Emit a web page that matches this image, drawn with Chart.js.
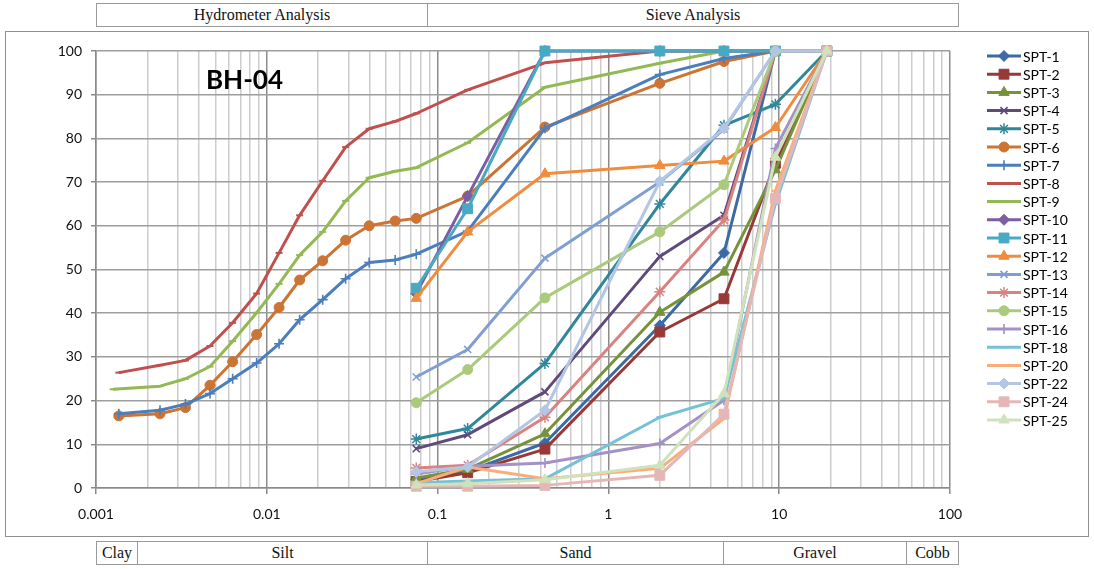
<!DOCTYPE html>
<html>
<head>
<meta charset="utf-8">
<script src="https://cdn.jsdelivr.net/npm/chart.js@4.4.1/dist/chart.umd.min.js"></script>
<style>
  html, body { margin: 0; padding: 0; background: #fff; }
  #wrap { position: relative; width: 1094px; height: 569px; overflow: hidden; background: #fff; }
  #frame { position: absolute; left: 5px; top: 31px; width: 1084px; height: 506px; border: 1px solid #8f8f8f; box-sizing: border-box; }
  canvas { position: absolute; left: 0; top: 0; }
  .cell { position: absolute; box-sizing: border-box; border: 1px solid #9a9a9a; font-family: "Liberation Serif", "DejaVu Serif", serif; font-size: 16px; color: #111; text-align: center; line-height: 22px; height: 24px; background: #fff; }
  #title { position: absolute; left: 206px; top: 64px; font-family: Lato, "Liberation Sans", sans-serif; font-weight: bold; font-size: 26px; color: #000; line-height: 30px; }
</style>
</head>
<body>
<div id="wrap">
  <div id="frame"></div>
  <canvas id="gsd" width="1094" height="569"></canvas>
  <div class="cell" style="left:96px;top:3px;width:332px;">Hydrometer Analysis</div>
  <div class="cell" style="left:427px;top:3px;width:532px;">Sieve Analysis</div>
  <div class="cell" style="left:96px;top:541px;width:42px;">Clay</div>
  <div class="cell" style="left:137px;top:541px;width:291px;">Silt</div>
  <div class="cell" style="left:427px;top:541px;width:297px;">Sand</div>
  <div class="cell" style="left:723px;top:541px;width:184px;">Gravel</div>
  <div class="cell" style="left:906px;top:541px;width:53px;">Cobb</div>
  <div id="title">BH-04</div>
</div>
<script>
// Particle sizes (mm)
const sieveSizes = [0.075, 0.15, 0.425, 2.0, 4.75, 9.5, 19.0];
const hydroSizes = [0.00136, 0.00237, 0.00334, 0.00465, 0.00631, 0.00872, 0.0118, 0.01557, 0.02124, 0.02894, 0.03975, 0.05644];
const hydroSizesSpt9 = [0.00126, 0.00237, 0.00334, 0.00465, 0.00631, 0.00872, 0.0118, 0.01557, 0.02124, 0.02894, 0.03975, 0.05644];

// Percent passing - sieve only samples
const spt1  = [2.0, 3.8, 10.3, 37.2, 53.8, 100, 100];
const spt2  = [1.5, 3.5, 8.9, 35.7, 43.3, 74.3, 100];
const spt3  = [2.3, 4.3, 12.4, 40.2, 49.4, 72.8, 100];
const spt4  = [9.0, 12.2, 22.0, 53.0, 62.4, 100, 100];
const spt5  = [11.2, 13.6, 28.5, 65.0, 83.0, 87.8, 100];
const spt10 = [44.5, 66.8, 100, 100, 100, 100, 100];
const spt11 = [45.7, 63.9, 100, 100, 100, 100, 100];
const spt12 = [43.4, 58.6, 71.9, 73.8, 74.8, 82.5, 100];
const spt13 = [25.4, 31.7, 52.6, 70.0, 82.1, 100, 100];
const spt14 = [4.6, 5.2, 16.2, 44.9, 61.3, 100, 100];
const spt15 = [19.5, 27.1, 43.5, 58.6, 69.4, 100, 100];
const spt16 = [3.2, 5.0, 5.7, 10.2, 20.1, 77.7, 100];
const spt18 = [1.2, 1.6, 2.1, 16.2, 20.5, 65.0, 100];
const spt20 = [1.0, 4.8, 2.1, 4.5, 15.9, 68.0, 100];
const spt22 = [3.7, 4.8, 17.8, 70.2, 82.3, 100, 100];
const spt24 = [0.4, 0.4, 0.6, 2.9, 16.9, 66.2, 100];
const spt25 = [0.7, 1.0, 1.9, 5.2, 21.6, 75.7, 100];

// Percent passing - hydrometer + sieve samples
const spt6Hydro = [16.5, 17.0, 18.4, 23.5, 28.9, 35.1, 41.3, 47.6, 52.0, 56.7, 60.0, 61.1];
const spt6Sieve = [61.7, 66.8, 82.6, 92.6, 97.6, 100, 100];
const spt7Hydro = [17.0, 17.8, 19.2, 21.6, 25.0, 28.6, 33.0, 38.5, 43.1, 47.9, 51.6, 52.2];
const spt7Sieve = [53.5, 58.8, 82.3, 94.6, 98.3, 100, 100];
const spt8Hydro = [26.4, 28.1, 29.2, 32.5, 37.8, 44.5, 53.8, 62.4, 70.3, 78.0, 82.2, 83.9];
const spt8Sieve = [85.7, 91.1, 97.3, 100, 100, 100, 100];
const spt9Hydro = [22.6, 23.3, 25.0, 27.8, 33.6, 40.1, 46.7, 53.3, 58.6, 65.7, 71.0, 72.5];
const spt9Sieve = [73.3, 79.0, 91.7, 97.2, 100, 100, 100];

const xTickLabels = ['0.001', '0.01', '0.1', '1', '10', '100'];
const yTickValues = [0, 10, 20, 30, 40, 50, 60, 70, 80, 90, 100];

function pairs(xs, ys) { return ys.map((y, i) => ({ x: xs[i], y: y })); }

const series = [
  { name: 'SPT-1',  color: '#3b6aa6', marker: 'rectRot',  data: pairs(sieveSizes, spt1) },
  { name: 'SPT-2',  color: '#973a37', marker: 'rect',     data: pairs(sieveSizes, spt2) },
  { name: 'SPT-3',  color: '#76933c', marker: 'triangle', data: pairs(sieveSizes, spt3) },
  { name: 'SPT-4',  color: '#5f4a7c', marker: 'crossRot', data: pairs(sieveSizes, spt4) },
  { name: 'SPT-5',  color: '#2f8799', marker: 'star',     data: pairs(sieveSizes, spt5) },
  { name: 'SPT-6',  color: '#cb7434', marker: 'circle',   data: pairs(hydroSizes.concat(sieveSizes), spt6Hydro.concat(spt6Sieve)) },
  { name: 'SPT-7',  color: '#4a7ebd', marker: 'cross',    data: pairs(hydroSizes.concat(sieveSizes), spt7Hydro.concat(spt7Sieve)) },
  { name: 'SPT-8',  color: '#c0504d', marker: 'line',     data: pairs(hydroSizes.concat(sieveSizes), spt8Hydro.concat(spt8Sieve)) },
  { name: 'SPT-9',  color: '#93b952', marker: 'line',     data: pairs(hydroSizesSpt9.concat(sieveSizes), spt9Hydro.concat(spt9Sieve)) },
  { name: 'SPT-10', color: '#7c5ea2', marker: 'rectRot',  data: pairs(sieveSizes, spt10) },
  { name: 'SPT-11', color: '#48a9c3', marker: 'rect',     data: pairs(sieveSizes, spt11) },
  { name: 'SPT-12', color: '#f08c3e', marker: 'triangle', data: pairs(sieveSizes, spt12) },
  { name: 'SPT-13', color: '#7f9fd3', marker: 'crossRot', data: pairs(sieveSizes, spt13) },
  { name: 'SPT-14', color: '#d9827f', marker: 'star',     data: pairs(sieveSizes, spt14) },
  { name: 'SPT-15', color: '#abca7c', marker: 'circle',   data: pairs(sieveSizes, spt15) },
  { name: 'SPT-16', color: '#a392c5', marker: 'cross',    data: pairs(sieveSizes, spt16) },
  { name: 'SPT-18', color: '#75c2d8', marker: 'line',     data: pairs(sieveSizes, spt18) },
  { name: 'SPT-20', color: '#f9ae7a', marker: 'line',     data: pairs(sieveSizes, spt20) },
  { name: 'SPT-22', color: '#b3c6e6', marker: 'rectRot',  data: pairs(sieveSizes, spt22) },
  { name: 'SPT-24', color: '#e4b7b6', marker: 'rect',     data: pairs(sieveSizes, spt24) },
  { name: 'SPT-25', color: '#cfe2bb', marker: 'triangle', data: pairs(sieveSizes, spt25) }
];

const markerRadius = { rect: 7, rectRot: 5.5, triangle: 6, circle: 5, cross: 5, crossRot: 5, star: 5.5, line: 3.5 };
const markerBorder = { rect: 1, rectRot: 1, triangle: 1, circle: 1, cross: 1.6, crossRot: 1.6, star: 1.5, line: 2 };

const datasets = series.map((s, i) => ({
  label: s.name,
  data: s.data,
  borderColor: s.color,
  backgroundColor: s.color,
  borderWidth: 3,
  tension: 0,
  pointStyle: s.marker,
  pointRadius: markerRadius[s.marker],
  pointHoverRadius: markerRadius[s.marker],
  pointBorderWidth: markerBorder[s.marker],
  pointBackgroundColor: s.color,
  pointBorderColor: s.color,
  clip: false,
  order: -i
}));

function isDecade(v) {
  const e = Math.log10(v);
  return Math.abs(e - Math.round(e)) < 1e-6;
}

// Side legend: line sample with marker, then label
const sideLegend = {
  id: 'sideLegend',
  afterDraw(chart) {
    const ctx = chart.ctx;
    chart.data.datasets.forEach((ds, i) => {
      const y = 56 + i * 18.2;
      ctx.save();
      ctx.strokeStyle = ds.borderColor;
      ctx.lineWidth = 3;
      ctx.beginPath();
      ctx.moveTo(987, y);
      ctx.lineTo(1021, y);
      ctx.stroke();
      ctx.fillStyle = ds.pointBackgroundColor;
      ctx.strokeStyle = ds.pointBorderColor;
      ctx.lineWidth = ds.pointBorderWidth;
      Chart.helpers.drawPoint(ctx, {
        pointStyle: ds.pointStyle,
        radius: ds.pointRadius,
        borderWidth: ds.pointBorderWidth,
        rotation: 0
      }, 1004, y);
      ctx.fillStyle = '#000';
      ctx.font = '14px Lato, "Liberation Sans", sans-serif';
      ctx.textAlign = 'left';
      ctx.textBaseline = 'middle';
      ctx.fillText(ds.label, 1023, y + 1);
      ctx.restore();
    });
  }
};

new Chart(document.getElementById('gsd'), {
  type: 'line',
  data: { datasets: datasets },
  options: {
    responsive: false,
    animation: false,
    devicePixelRatio: 1,
    layout: { padding: { left: 56, right: 144, top: 51, bottom: 41 } },
    plugins: { legend: { display: false }, tooltip: { enabled: false } },
    elements: { line: { borderJoinStyle: 'round' } },
    scales: {
      x: {
        type: 'logarithmic',
        min: 0.001,
        max: 100,
        afterBuildTicks(scale) {
          const ticks = [];
          for (let e = -3; e <= 1; e++) {
            for (let s = 1; s <= 9; s++) {
              const v = parseFloat((s * Math.pow(10, e)).toPrecision(6));
              ticks.push({ value: v, major: s === 1 });
            }
          }
          ticks.push({ value: 100, major: true });
          scale.ticks = ticks;
        },
        afterFit(scale) { scale.height = 40; },
        border: { color: '#8a8a8a', width: 1.5 },
        grid: {
          color: (c) => (c.tick && isDecade(c.tick.value)) ? '#8c8c8c' : '#cdcdcd',
          lineWidth: 1.5,
          tickLength: 6,
          tickColor: (c) => (c.tick && isDecade(c.tick.value)) ? '#8a8a8a' : 'rgba(0,0,0,0)'
        },
        ticks: {
          autoSkip: false,
          maxRotation: 0,
          padding: 12,
          color: '#111',
          font: { family: 'Lato, "Liberation Sans", sans-serif', size: 14 },
          callback(value) {
            if (!isDecade(value)) return '';
            return xTickLabels[Math.round(Math.log10(value)) + 3];
          }
        }
      },
      y: {
        min: 0,
        max: 100,
        afterBuildTicks(scale) { scale.ticks = yTickValues.map(v => ({ value: v })); },
        afterFit(scale) { scale.width = 40; },
        border: { color: '#8a8a8a', width: 1.5 },
        grid: { color: '#9e9e9e', lineWidth: 1.5, tickLength: 5, tickColor: '#8a8a8a' },
        ticks: {
          padding: 9,
          color: '#111',
          font: { family: 'Lato, "Liberation Sans", sans-serif', size: 14 }
        }
      }
    }
  },
  plugins: [sideLegend]
});
</script>
</body>
</html>
